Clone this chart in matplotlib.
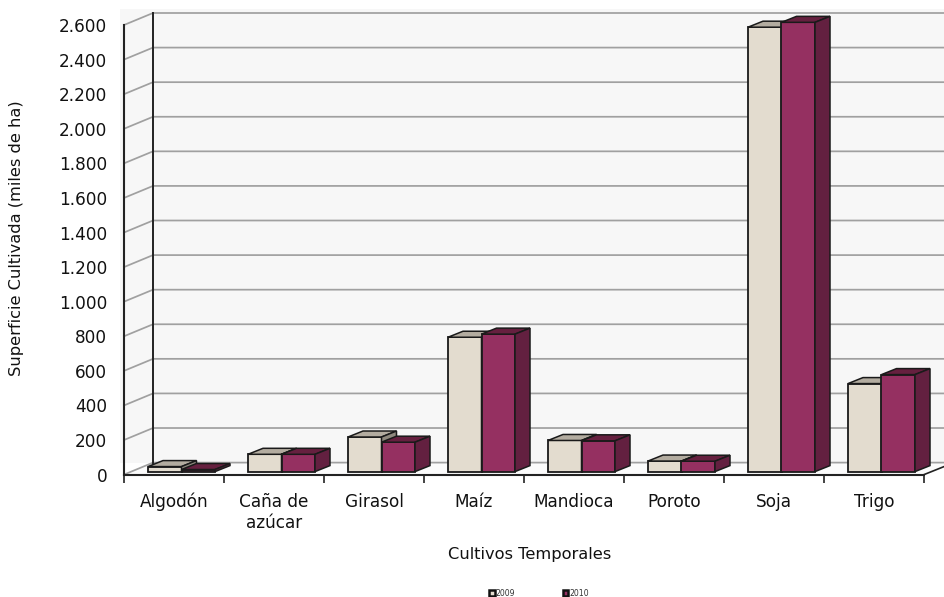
import matplotlib
matplotlib.use("Agg")
import matplotlib.pyplot as plt
from matplotlib.patches import Patch

plt.rcParams['font.family'] = ['DejaVu Sans']

cultivos = ["Algodón", "Caña de\nazúcar", "Girasol", "Maíz", "Mandioca", "Poroto", "Soja", "Trigo"]
sup_2009 = [29, 100, 200, 777, 180, 61, 2570, 509]
sup_2010 = [12, 100, 170, 795, 178, 60, 2598, 561]
yticks = [0, 200, 400, 600, 800, 1000, 1200, 1400, 1600, 1800, 2000, 2200, 2400, 2600]
ytick_labels = ["0", "200", "400", "600", "800", "1.000", "1.200", "1.400", "1.600", "1.800",
                "2.000", "2.200", "2.400", "2.600"]

W, H = 944, 597
# front plane of the fake 3d box, in pixels
x0_px, x1_px = 124, 924
y0_px, y_top_px = 474.6, 25
px_x = len(cultivos) / (x1_px - x0_px)
px_y = 2600 / (y0_px - y_top_px)

fig = plt.figure(figsize=(W / 100, H / 100), dpi=100)
ax = fig.add_axes([x0_px / W, 1 - y0_px / H, (x1_px - x0_px) / W, (y0_px - y_top_px) / H])
ax.set_xlim(0, len(cultivos))
ax.set_ylim(0, 2600)
ax.patch.set_visible(False)

# depth of the walls and of the bars
wall_dx, wall_dy = 29 * px_x, 12 * px_y
bar_dx, bar_dy = 15 * px_x, 6 * px_y
off_x, off_y = 7.5 * px_x, 3 * px_y
bar_w = 33.5 * px_x
right = (944 - x0_px) * px_x
grid = "#a0a0a0"

# plot area background
ax.fill([-4 * px_x, right, right, -4 * px_x], [wall_dy, wall_dy, 2600 + 16 * px_y, 2600 + 16 * px_y],
        color="#f7f7f7", lw=0, clip_on=False, zorder=0)
ax.fill([0, wall_dx, right, right, len(cultivos)], [0, wall_dy, wall_dy, 8 * px_y, 0],
        color="#fbfbfb", lw=0, clip_on=False, zorder=0)

for v in yticks:
    ax.plot([0, wall_dx, right], [v, v + wall_dy, v + wall_dy], color=grid, lw=1.25, clip_on=False, zorder=1)
ax.plot([wall_dx, wall_dx], [wall_dy, 2600 + wall_dy], color="#222222", lw=1.4, clip_on=False, zorder=1)
ax.plot([len(cultivos), right], [0, 8 * px_y], color="#222222", lw=1.2, clip_on=False, zorder=1)


def draw_bars(values, left_shift, front, top, side):
    xs = [i + 0.5 + left_shift for i in range(len(values))]
    ax.bar(xs, values, width=bar_w, bottom=off_y, color=front, edgecolor="#1a1a1a", lw=1.3,
           clip_on=False, zorder=3)
    for x, v in zip(xs, values):
        l, r = x - bar_w / 2, x + bar_w / 2
        t = off_y + v
        ax.fill([l, l + bar_dx, r + bar_dx, r], [t, t + bar_dy, t + bar_dy, t], facecolor=top,
                edgecolor="#1a1a1a", lw=1.1, clip_on=False, zorder=3)
        ax.fill([r, r + bar_dx, r + bar_dx, r], [off_y, off_y + bar_dy, t + bar_dy, t], facecolor=side,
                edgecolor="#1a1a1a", lw=1.1, clip_on=False, zorder=3)


draw_bars(sup_2009, off_x - bar_w / 2, "#e3dccf", "#b3aca0", "#8f897e")
draw_bars(sup_2010, off_x + bar_w / 2, "#953061", "#66203f", "#632040")

ax.set_xticks(range(len(cultivos) + 1))
ax.set_xticklabels([])
ax.set_xticks([i + 0.5 for i in range(len(cultivos))], minor=True)
ax.set_xticklabels(cultivos, minor=True, fontsize=12.2, color="#111111", linespacing=1.25)
ax.tick_params(axis="x", which="major", length=5.5, width=1.2, color="#222222")
ax.tick_params(axis="x", which="minor", length=0, pad=13)
ax.set_yticks(yticks)
ax.set_yticklabels(ytick_labels, fontsize=12.2, color="#111111")
ax.tick_params(axis="y", length=0, pad=12)

for s in ["top", "right"]:
    ax.spines[s].set_visible(False)
ax.spines["left"].set_linewidth(1.5)
ax.spines["left"].set_color("#222222")
ax.spines["bottom"].set_linewidth(1.5)
ax.spines["bottom"].set_color("#222222")
ax.set_axisbelow(False)

fig.text(530 / W, 1 - 554 / H, "Cultivos Temporales", fontsize=11.7, ha="center", va="center", color="#111111")
fig.text(17 / W, 1 - 238 / H, "Superficie Cultivada (miles de ha)", fontsize=11.7, rotation=90,
         ha="center", va="center", color="#111111")

handles = [Patch(facecolor="#e3dccf", edgecolor="#111111", lw=1.8, label="2009"),
           Patch(facecolor="#953061", edgecolor="#111111", lw=1.8, label="2010")]
fig.legend(handles=handles, ncol=2, frameon=False, fontsize=5.6, loc="center",
           bbox_to_anchor=(539 / W, 1 - 593 / H), handlelength=0.7, handleheight=0.7,
           handletextpad=0.1, columnspacing=6.2, borderpad=0, labelcolor="#333333")

fig.savefig("out.png", dpi=100)
